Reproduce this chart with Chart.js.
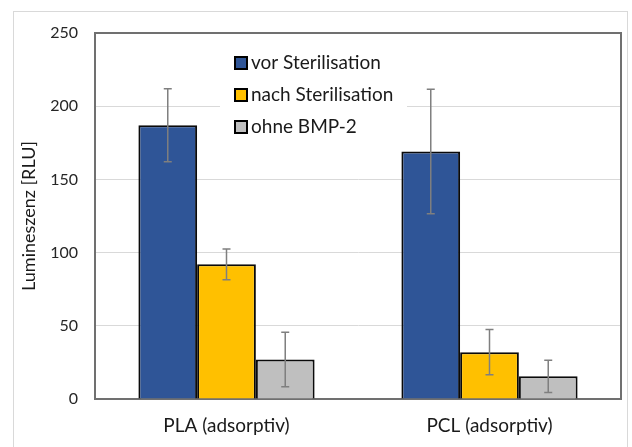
<!DOCTYPE html>
<html>
<head>
<meta charset="utf-8">
<script src="https://cdn.jsdelivr.net/npm/chart.js@4.4.0/dist/chart.umd.min.js"></script>
<style>
  html, body { margin: 0; padding: 0; background: #fff; }
  #wrap { width: 632px; height: 447px; }
</style>
</head>
<body>
<div id="wrap"><canvas id="myChart" width="632" height="447"></canvas></div>
<script>
// Categories
var categories = ["PLA (adsorptiv)", "PCL (adsorptiv)"];

// Series values
var vorSterilisation = [187, 169];
var nachSterilisation = [92, 32];
var ohneBMP2 = [27, 15.5];

// Error bars (+/-)
var vorErr = [25, 42.5];
var nachErr = [10.5, 15.5];
var ohneErr = [18.6, 11];

// Tick labels
var yTicks = [0, 50, 100, 150, 200, 250];

var errors = [vorErr, nachErr, ohneErr];

// Outer frame
const framePlugin = {
    id: "frame",
    beforeDraw(chart) {
        const c = chart.ctx;
        c.save();
        c.fillStyle = "#fff";
        c.fillRect(0, 0, chart.width, chart.height);
        c.strokeStyle = "#d9d9d9";
        c.lineWidth = 1;
        c.strokeRect(13.5, 11.5, 614, 500);
        c.restore();
    }
};

// Error bars
const errorPlugin = {
    id: "errorBars",
    afterDatasetsDraw(chart) {
        const c = chart.ctx;
        const y = chart.scales.y;
        c.save();
        c.strokeStyle = "#7f7f7f";
        c.lineWidth = 1.5;
        chart.data.datasets.forEach(function(ds, i) {
            const meta = chart.getDatasetMeta(i);
            meta.data.forEach(function(bar, j) {
                const v = ds.data[j];
                const e = errors[i][j];
                const top = y.getPixelForValue(v + e);
                const bot = y.getPixelForValue(v - e);
                const x = bar.x;
                c.beginPath();
                c.moveTo(x, top); c.lineTo(x, bot);
                c.moveTo(x - 4, top); c.lineTo(x + 4, top);
                c.moveTo(x - 4, bot); c.lineTo(x + 4, bot);
                c.stroke();
            });
        });
        c.restore();
    }
};

// Legend inside plot area
const legendPlugin = {
    id: "innerLegend",
    afterDatasetsDraw(chart) {
        const c = chart.ctx;
        c.save();
        c.fillStyle = "#fff";
        c.fillRect(220, 46, 187, 96);
        c.font = "19px Lato";
        c.textBaseline = "middle";
        chart.data.datasets.forEach(function(ds, i) {
            const cy = 63 + i * 32;
            c.fillStyle = ds.backgroundColor;
            c.fillRect(235, cy - 6, 12, 12);
            c.strokeStyle = "#000";
            c.lineWidth = 2;
            c.strokeRect(235, cy - 6, 12, 12);
            c.fillStyle = "#1a1a1a";
            c.fillText(ds.label, 251, cy);
        });
        c.restore();
    }
};

const ctx = document.getElementById("myChart").getContext("2d");
const myChart = new Chart(ctx, {
    type: "bar",
    data: {
        labels: categories,
        datasets: [
            { label: "vor Sterilisation", data: vorSterilisation, backgroundColor: "#2F5597", borderColor: "#0a0a0a", borderWidth: 2 },
            { label: "nach Sterilisation", data: nachSterilisation, backgroundColor: "#FFC000", borderColor: "#0a0a0a", borderWidth: 2 },
            { label: "ohne BMP-2", data: ohneBMP2, backgroundColor: "#BFBFBF", borderColor: "#0a0a0a", borderWidth: 2 }
        ]
    },
    options: {
        responsive: false,
        animation: false,
        layout: { padding: { left: 0, top: 33, right: 11, bottom: 0 } },
        categoryPercentage: 0.67,
        barPercentage: 1.0,
        plugins: {
            legend: { display: false },
            tooltip: { enabled: false }
        },
        scales: {
            x: {
                grid: { display: false, drawTicks: false },
                border: { display: true, color: "#707070", width: 2 },
                ticks: { color: "#1a1a1a", font: { family: "Lato", size: 19 }, padding: 15 },
                afterFit: function(scale) { scale.height = 48; }
            },
            y: {
                min: 0,
                max: 250,
                afterBuildTicks: function(scale) {
                    scale.ticks = yTicks.map(function(v) { return { value: v }; });
                },
                grid: { color: "#d9d9d9", lineWidth: 1, drawTicks: false },
                border: { display: true, color: "#707070", width: 2 },
                ticks: { color: "#262626", font: { family: "Lato", size: 16 }, padding: 17 },
                title: {
                    display: true,
                    text: "Lumineszenz [RLU]",
                    color: "#1a1a1a",
                    font: { family: "Lato", size: 18 },
                    padding: { top: 18, bottom: 0 }
                },
                afterFit: function(scale) { scale.width = 95; }
            }
        }
    },
    plugins: [framePlugin, errorPlugin, legendPlugin, {
        id: "plotBorder",
        afterDraw(chart) {
            const a = chart.chartArea;
            const c = chart.ctx;
            c.save();
            c.strokeStyle = "#707070";
            c.lineWidth = 2;
            c.beginPath();
            c.moveTo(a.left, a.top);
            c.lineTo(a.right, a.top);
            c.lineTo(a.right, a.bottom);
            c.stroke();
            c.restore();
        }
    }]
});
</script>
</body>
</html>
